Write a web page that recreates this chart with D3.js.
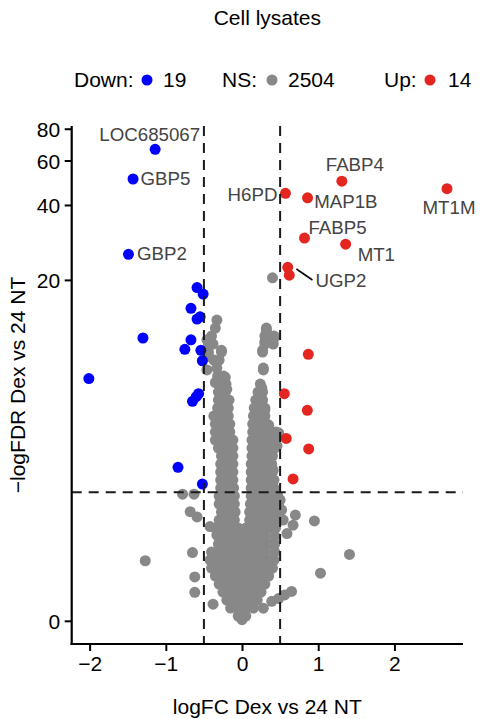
<!DOCTYPE html>
<html><head><meta charset="utf-8">
<script src="https://cdn.jsdelivr.net/npm/d3@7"></script>
<style>body{margin:0;background:#fff}</style>
</head><body><svg id="c" width="485" height="719"></svg>
<script>
// ---------------- data ----------------
const title = "Cell lysates";
const xLabel = "logFC Dex vs 24 NT";
const yLabel = "\u2212logFDR Dex vs 24 NT";
const xTicks = [-2, -1, 0, 1, 2];
const yTicks = [0, 20, 40, 60, 80];
const fcCut = 0.5;
const fdrCut = 2.15;
const legendLabels = ["Down:", "NS:", "Up:"];
const legendCounts = [19, 2504, 14];

// [logFC, -logFDR]
const downPoints = [
  [-1.14, 66.4], [-1.43, 50.7], [-1.49, 25.4], [-0.59, 18.6], [-0.51, 17.5],
  [-0.67, 15.3], [-0.59, 13.8], [-0.55, 14.1], [-1.30, 11.5], [-0.67, 11.3],
  [-0.75, 10.3], [-0.54, 10.2], [-0.52, 9.2], [-2.01, 7.7], [-0.57, 6.6],
  [-0.65, 6.1], [-0.60, 6.4], [-0.84, 2.94], [-0.52, 2.39]
];
const upPoints = [
  [0.57, 44.5], [1.31, 49.7], [0.86, 42.7], [2.69, 46.4], [0.82, 29.5],
  [1.36, 27.9], [0.60, 22.5], [0.62, 20.9], [0.87, 9.8], [0.555, 6.6],
  [0.857, 5.55], [0.58, 4.1], [0.875, 3.64], [0.67, 2.55]
];
// non-significant genes, grouped by -logFDR level: [-logFDR, [logFC...]]
const nsRows = [
  [0.044, [-0.05, 0.05]],
  [0.121, [-0.15, -0.05, 0.05, 0.15]],
  [0.204, [-0.2, -0.1, 0, 0.1, 0.2]],
  [0.293, [-0.25, -0.15, -0.05, 0.05, 0.15, 0.25]],
  [0.389, [-0.3, -0.2, -0.1, 0, 0.1, 0.2, 0.3]],
  [0.492, [-0.35, -0.25, -0.15, -0.05, 0.05, 0.15, 0.25, 0.35]],
  [0.602, [-0.4, -0.3, -0.2, -0.1, 0, 0.1, 0.2, 0.3, 0.4]],
  [0.721, [-0.42, -0.35, -0.25, -0.15, -0.05, 0.05, 0.15, 0.25, 0.35, 0.42]],
  [0.848, [-0.4, -0.3, -0.2, -0.1, 0, 0.1, 0.2, 0.3, 0.43]],
  [0.985, [-0.31, -0.25, -0.15, -0.05, 0.05, 0.15, 0.25, 0.35, 0.43]],
  [1.132, [-0.3, -0.2, -0.1, 0, 0.1, 0.2, 0.3, 0.43]],
  [1.290, [-0.35, -0.25, -0.15, -0.05, 0.05, 0.15, 0.25, 0.35, 0.44]],
  [1.460, [-0.3, -0.2, -0.1, 0.1, 0.2, 0.3, 0.4, 0.46]],
  [1.642, [-0.27, -0.17, -0.09, 0.1, 0.2, 0.3, 0.4, 0.47]],
  [1.837, [-0.3, -0.2, -0.1, 0.11, 0.2, 0.3, 0.4, 0.48]],
  [2.047, [-0.3, -0.2, -0.1, 0.12, 0.22, 0.32, 0.42, 0.47]],
  [2.273, [-0.28, -0.19, -0.11, 0.12, 0.22, 0.32, 0.42]],
  [2.515, [-0.28, -0.18, -0.12, 0.12, 0.22, 0.32, 0.42]],
  [2.776, [-0.28, -0.18, -0.12, 0.12, 0.21, 0.3, 0.4]],
  [3.055, [-0.28, -0.18, -0.12, 0.12, 0.22, 0.32, 0.39]],
  [3.355, [-0.27, -0.18, -0.12, 0.13, 0.23, 0.33, 0.4]],
  [3.678, [-0.31, -0.21, -0.12, 0.13, 0.23, 0.33, 0.43]],
  [4.024, [-0.35, -0.25, -0.16, -0.12, 0.13, 0.23, 0.33, 0.43]],
  [4.396, [-0.35, -0.25, -0.16, 0.14, 0.24, 0.34, 0.44]],
  [4.796, [-0.35, -0.25, -0.16, 0.14, 0.24, 0.33]],
  [5.225, [-0.37, -0.27, -0.18, 0.15, 0.25, 0.3]],
  [5.686, [-0.32, -0.23, -0.18, 0.16, 0.26, 0.3]],
  [6.181, [-0.31, -0.22, -0.17, 0.18, 0.27]],
  [6.713, [-0.31, -0.22, 0.21, 0.27]],
  [7.284, [-0.3, -0.21, 0.24]],
  [7.897, [-0.32, -0.24]],
  [8.556, [-0.33, 0.28]],
  [9.264, [-0.37, -0.3]],
  [10.023, [-0.44, -0.27, 0.27]],
  [10.838, [-0.44, -0.38, 0.3, 0.41]],
  [11.719, [-0.4, 0.3, 0.42]],
  [12.657, [-0.35, 0.32]],
  [13.667, [-0.33]]
];
const nsExtra = [
  [0.40, 20.4], [-1.27, 0.71], [-0.78, 2.10], [-0.63, 2.10], [-0.68, 1.65],
  [-0.59, 1.53], [-0.65, 0.84], [-0.62, 0.48], [-0.62, 0.29], [-0.38, 0.16],
  [-0.42, 1.32], [-0.33, 1.15], [0.70, 1.57], [0.67, 1.35], [0.59, 1.18],
  [0.95, 1.44], [1.41, 0.81], [1.03, 0.53], [0.65, 0.30], [0.56, 0.26],
  [0.48, 0.22], [0.39, 0.19], [0.28, 0.12], [0.52, 1.69], [0.54, 1.46],
  [0.50, 1.94], [0.39, 2.12], [0.48, 4.36], [0.46, 3.77], [0.41, 2.84],
  [0.43, 2.22], [0.32, 12.4], [0.43, 11.6], [0.30, 11.1], [0.27, 10.2],
  [0.28, 8.4], [0.26, 7.0], [0.21, 6.2], [0.30, 5.57], [0.35, 4.74],
  [0.0, 0.01], [-0.46, 11.3], [-0.44, 9.6], [-0.46, 8.4], [-0.22, 7.8],
  [-0.35, 7.4], [-0.2, 6.9], [-0.27, 10.2]
];
const geneNames = ["LOC685067", "GBP5", "GBP2", "H6PD", "FABP4", "MAP1B", "MT1M", "FABP5", "MT1", "UGP2"];
const genePoints = [
  [-1.14, 66.4], [-1.43, 50.7], [-1.49, 25.4], [0.57, 44.5], [1.31, 49.7],
  [0.86, 42.7], [2.69, 46.4], [0.82, 29.5], [1.36, 27.9], [0.60, 22.5]
];

// ---------------- layout ----------------
const FONT = "'Liberation Sans', Arial, Helvetica, sans-serif";
const colDown = "#0000ff", colUp = "#e3261f", colNS = "#888888";
const R = 5.5;
const labelLayout = {
  LOC685067: {dx: 45, dy: -8.3, a: "end"},
  GBP5: {dx: 7.4, dy: 5.5, a: "start"},
  GBP2: {dx: 8.6, dy: 5.5, a: "start"},
  H6PD: {dx: -8, dy: 7.2, a: "end"},
  FABP4: {dx: 13, dy: -10.3, a: "middle"},
  MAP1B: {dx: 6.6, dy: 10.6, a: "start"},
  MT1M: {dx: 2, dy: 25.6, a: "middle"},
  FABP5: {dx: 4, dy: -4, a: "start"},
  MT1: {dx: 12, dy: 16.7, a: "start"},
  UGP2: {dx: 27.7, dy: 19.4, a: "start", seg: [8.7, 1.7, 24.7, 12.7]}
};

const svg = d3.select("#c");
const L = 71.7, Rr = 463, T = 126, B = 644;
const x = d3.scaleLinear().domain([-2.235, 2.9]).range([L, Rr]);
const y = d3.scaleSymlog().constant(1).domain([-0.23, 82]).range([B, T]);

// points
const nsPoints = [];
nsRows.forEach(([v, xs]) => xs.forEach(fc => nsPoints.push([fc, v])));
nsExtra.forEach(p => nsPoints.push(p));

const gPts = svg.append("g");
function drawPts(data, col) {
  gPts.selectAll(null).data(data).enter().append("circle")
    .attr("cx", d => x(d[0])).attr("cy", d => y(d[1])).attr("r", R).attr("fill", col);
}
drawPts(nsPoints, colNS);
drawPts(downPoints, colDown);
drawPts(upPoints, colUp);

// threshold lines
const gl = svg.append("g").attr("stroke", "#1a1a1a").attr("stroke-width", 2).attr("stroke-dasharray", "10,7");
[-fcCut, fcCut].forEach(v => gl.append("line").attr("x1", x(v)).attr("x2", x(v)).attr("y1", T).attr("y2", B));
gl.append("line").attr("x1", L).attr("x2", Rr).attr("y1", y(fdrCut)).attr("y2", y(fdrCut));

// labels
const gLab = svg.append("g").attr("font-family", FONT).attr("font-size", 18.7).attr("fill", "#444");
geneNames.forEach((g, i) => {
  const p = genePoints[i], lay = labelLayout[g];
  const px = x(p[0]), py = y(p[1]);
  gLab.append("text").attr("x", px + lay.dx).attr("y", py + lay.dy).attr("text-anchor", lay.a).text(g);
  if (lay.seg) {
    svg.append("line").attr("x1", px + lay.seg[0]).attr("y1", py + lay.seg[1])
      .attr("x2", px + lay.seg[2]).attr("y2", py + lay.seg[3]).attr("stroke", "#000").attr("stroke-width", 1.6);
  }
});

// axes
const xAxis = svg.append("g").attr("transform", `translate(0,${B})`)
  .call(d3.axisBottom(x).tickValues(xTicks).tickFormat(d3.format("d")).tickSize(7).tickSizeOuter(0).tickPadding(5));
const yAxis = svg.append("g").attr("transform", `translate(${L},0)`)
  .call(d3.axisLeft(y).tickValues(yTicks).tickFormat(d3.format("d")).tickSize(7).tickSizeOuter(0).tickPadding(4.5));
[xAxis, yAxis].forEach(a => {
  a.attr("font-family", FONT).attr("font-size", 21);
  a.select(".domain").attr("stroke", "#000").attr("stroke-width", 2.2);
  a.selectAll(".tick line").attr("stroke", "#000").attr("stroke-width", 2);
  a.selectAll(".tick text").attr("fill", "#000");
});
yAxis.selectAll(".tick text").attr("dy", "0.36em");
// extend axis lines to meet at the corner
xAxis.select(".domain").attr("d", `M${L - 1.1},0H${Rr}`);
yAxis.select(".domain").attr("d", `M0,${T}V${B + 1.1}`);

// titles
svg.append("text").attr("x", (L + Rr) / 2).attr("y", 25).attr("text-anchor", "middle")
  .attr("font-family", FONT).attr("font-size", 21).text(title);
svg.append("text").attr("x", (L + Rr) / 2).attr("y", 714).attr("text-anchor", "middle")
  .attr("font-family", FONT).attr("font-size", 21).text(xLabel);
svg.append("text").attr("transform", `translate(25,${(T + B) / 2}) rotate(-90)`).attr("text-anchor", "middle")
  .attr("font-family", FONT).attr("font-size", 21).text(yLabel);

// legend
const legCols = [colDown, colNS, colUp];
const legTextX = [74, 222, 384], legDotX = [147, 272, 430], legCountX = [163, 288, 448];
const gLeg = svg.append("g").attr("font-family", FONT).attr("font-size", 21);
legendLabels.forEach((lab, i) => {
  gLeg.append("text").attr("x", legTextX[i]).attr("y", 87).text(lab);
  gLeg.append("circle").attr("cx", legDotX[i]).attr("cy", 80).attr("r", R).attr("fill", legCols[i]);
  gLeg.append("text").attr("x", legCountX[i]).attr("y", 87).text(legendCounts[i]);
});
</script></body></html>
